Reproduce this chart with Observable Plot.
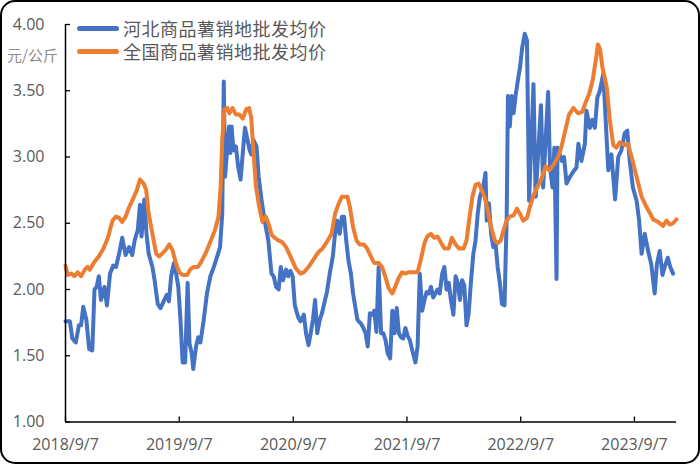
<!DOCTYPE html>
<html>
<head>
<meta charset="utf-8">
<script src="https://cdn.jsdelivr.net/npm/d3@7"></script>
<script src="https://cdn.jsdelivr.net/npm/@observablehq/plot@0.6"></script>
<style>
  html, body { margin: 0; padding: 0; background: #fff; }
  #wrap { position: relative; width: 700px; height: 464px; overflow: hidden; background: #fff; }
  #chart { position: absolute; left: 0; top: 0; }
  #frame { position: absolute; left: 0; top: 0; width: 700px; height: 464px; box-sizing: border-box;
           border: 2px solid #000; border-radius: 15px; pointer-events: none; }
  .leg { position: absolute; font-family: "Noto Sans CJK SC", sans-serif; font-size: 18px; color: #595959;
         white-space: nowrap; line-height: 1; letter-spacing: 0.5px; }
  .swatch { position: absolute; height: 5px; border-radius: 3px; }
  #unit { position: absolute; left: 7px; top: 47px; font-family: "Noto Sans CJK SC", sans-serif;
          font-size: 15px; color: #8c8c8c; line-height: 1; white-space: nowrap; }
</style>
</head>
<body>
<div id="wrap">
  <div id="chart"></div>
  <div id="legend"></div>
  <div id="unit">元/公斤</div>
  <div id="frame"></div>
</div>
<script>
// ---- data (weeks counted from 2018/9/7, prices in 元/公斤) ----
const startDay = "2018-09-07";

const seriesNames = ["河北商品薯销地批发均价", "全国商品薯销地批发均价"];
const seriesColors = ["#4472C4", "#ED7D31"];

const hebeiWeek = [0,2.0,3.1,4.7,6.1,7.2,8.2,9.6,10.8,12.3,13.3,14.3,15.3,16.3,17.8,19.0,20.4,21.9,23.1,24.5,26.0,27.6,29.2,30.6,31.7,33.1,34.1,34.9,36.2,37.2,38.2,39.8,40.9,42.3,43.5,45.0,46.4,47.4,48.4,49.7,50.7,51.7,52.7,53.7,54.8,56.0,56.8,57.8,58.6,59.9,60.9,61.9,63.3,64.8,66.4,68.0,69.5,70.9,71.9,72.5,73.2,74.0,75.0,75.6,76.2,77.0,78.1,79.1,80.3,81.3,82.3,83.4,84.4,85.2,86.2,87.5,88.5,89.9,91.3,93.0,94.4,95.4,96.6,97.7,98.7,99.7,101.1,102.2,103.2,104.2,105.2,106.7,107.7,109.3,110.3,111.4,112.4,113.4,114.4,115.4,116.5,117.5,118.5,119.9,121.2,122.6,123.6,124.6,125.7,126.7,127.7,128.7,129.7,130.8,131.8,132.8,133.8,135.5,136.5,137.5,138.5,139.5,140.6,141.6,142.6,143.6,144.7,145.7,146.7,147.7,148.8,149.8,150.8,151.8,152.8,153.9,154.9,155.9,156.9,157.9,159.0,160.4,161.4,162.4,163.5,164.5,165.5,166.5,167.6,168.6,169.6,170.6,171.6,172.7,173.7,174.7,175.7,176.7,177.8,178.8,179.8,180.8,181.9,182.9,183.9,184.9,185.9,187.0,188.0,189.0,190.0,191.5,192.5,193.1,194.1,195.1,196.2,197.2,198.2,199.2,200.2,201.3,202.3,202.9,203.7,204.5,205.4,206.4,207.4,208.4,209.4,210.5,211.5,212.5,214.5,215.6,218.0,219.0,221.3,222.1,223.3,224.1,225.2,225.6,227.5,228.6,229.7,231.3,232.8,234.3,235.1,236.6,238.1,238.9,240.4,241.5,242.7,243.9,245.0,246.5,248.8,250.3,252.0,253.4,254.9,256.4,257.6,258.7,260.2,261.8,263.0,264.1,265.6,267.1,268.6,270.1,271.2,272.4,273.7,274.7,276.2,277.3,278.5];
const hebeiPrice = [1.76,1.76,1.63,1.60,1.73,1.73,1.87,1.77,1.55,1.54,2.00,2.02,2.10,1.92,2.02,1.88,2.12,2.18,2.17,2.27,2.39,2.26,2.32,2.26,2.37,2.45,2.64,2.40,2.68,2.42,2.27,2.17,2.07,1.89,1.86,1.91,1.96,1.91,2.10,2.20,2.12,2.02,1.77,1.45,1.45,2.05,1.59,1.52,1.40,1.57,1.64,1.60,1.76,1.97,2.10,2.17,2.25,2.32,2.57,3.57,2.85,3.03,3.23,3.03,3.23,3.05,3.08,2.93,2.83,3.03,3.22,3.13,3.05,3.02,3.13,3.08,2.85,2.68,2.52,2.37,2.12,2.10,2.02,2.00,2.17,2.07,2.15,2.10,2.14,2.10,1.88,1.79,1.76,1.81,1.67,1.58,1.67,1.77,1.92,1.67,1.77,1.82,1.89,1.98,2.12,2.25,2.42,2.52,2.42,2.55,2.55,2.37,2.22,2.12,1.97,1.87,1.77,1.74,1.71,1.67,1.57,1.82,1.81,1.84,1.68,2.17,1.67,1.67,1.62,1.52,1.48,1.84,1.67,1.86,1.67,1.64,1.63,1.71,1.65,1.62,1.54,1.45,1.57,2.12,1.84,1.92,1.98,1.97,2.02,1.94,1.97,2.00,1.97,2.12,2.17,2.00,2.05,1.92,1.81,2.10,2.05,1.92,2.07,2.03,1.73,1.82,2.05,2.27,2.37,2.57,2.70,2.78,2.88,2.52,2.65,2.42,2.32,2.35,2.17,2.05,1.89,1.88,2.55,3.46,3.23,3.46,3.33,3.47,3.58,3.68,3.83,3.93,3.88,2.67,3.55,2.70,3.39,2.77,3.49,2.92,2.77,3.07,2.08,3.07,2.97,3.00,2.80,2.85,2.89,2.92,3.10,2.97,3.10,3.35,3.22,3.28,3.22,3.45,3.50,3.63,2.90,3.02,2.68,3.00,3.05,3.18,3.20,2.97,2.77,2.67,2.52,2.27,2.42,2.29,2.19,1.97,2.19,2.29,2.11,2.17,2.24,2.17,2.12];

const nationalWeek = [0,1.0,2.7,4.1,5.5,7.2,8.8,10.2,11.2,13.3,15.3,17.4,19.4,21.5,23.1,24.5,26.0,27.6,29.2,30.9,32.7,34.1,35.8,37.0,38.2,39.8,41.5,42.9,44.3,46.0,47.6,49.0,50.5,52.1,53.7,55.8,57.2,58.6,60.7,62.3,64.4,66.4,68.5,70.1,71.1,71.9,72.9,74.2,75.2,76.6,78.1,79.7,81.3,82.8,84.2,85.2,86.2,87.3,88.9,90.3,91.9,93.0,94.6,96.0,97.5,99.1,101.1,103.2,105.6,107.7,109.3,111.4,113.4,115.9,117.9,119.9,122.0,123.6,125.3,126.7,128.1,129.3,130.4,131.8,133.4,134.9,136.9,138.3,140.0,141.6,143.6,145.1,146.5,148.1,149.8,151.2,152.6,154.3,155.9,157.3,159.4,161.4,162.9,164.5,165.9,167.6,169.0,170.6,172.3,173.7,175.7,177.2,178.8,180.4,182.5,183.9,185.3,186.6,188.0,189.4,190.6,192.1,193.5,195.1,196.8,198.2,199.6,200.9,202.3,203.7,205.4,207.0,208.4,209.8,211.5,212.9,214.5,216.6,218.2,220.1,221.7,223.7,225.8,227.4,228.9,230.9,232.9,235.0,237.0,238.4,240.1,241.7,243.1,244.2,245.2,246.2,248.1,249.6,251.1,252.6,254.1,256.4,257.9,259.5,261.8,264.1,266.4,267.9,269.4,271.7,274.0,275.5,277.0,278.5,280.1];
const nationalPrice = [2.18,2.11,2.12,2.10,2.13,2.10,2.15,2.17,2.15,2.21,2.25,2.31,2.39,2.52,2.55,2.54,2.51,2.55,2.62,2.68,2.75,2.83,2.80,2.75,2.57,2.42,2.27,2.25,2.27,2.30,2.34,2.30,2.20,2.13,2.11,2.11,2.15,2.17,2.17,2.21,2.28,2.36,2.45,2.55,2.78,3.13,3.36,3.37,3.33,3.37,3.32,3.32,3.29,3.36,3.37,3.30,3.05,2.78,2.62,2.51,2.55,2.50,2.41,2.39,2.37,2.36,2.32,2.25,2.16,2.12,2.13,2.17,2.22,2.28,2.31,2.36,2.42,2.57,2.65,2.70,2.70,2.70,2.62,2.47,2.37,2.34,2.34,2.31,2.25,2.20,2.20,2.17,2.10,2.01,1.97,2.02,2.08,2.13,2.12,2.13,2.13,2.13,2.22,2.35,2.40,2.42,2.39,2.40,2.35,2.31,2.31,2.39,2.34,2.31,2.31,2.37,2.55,2.70,2.79,2.80,2.76,2.70,2.60,2.47,2.37,2.35,2.37,2.45,2.52,2.55,2.56,2.61,2.57,2.52,2.54,2.62,2.71,2.78,2.83,2.93,2.90,2.94,3.00,3.08,3.18,3.32,3.37,3.33,3.34,3.41,3.48,3.58,3.73,3.85,3.81,3.68,3.53,3.28,3.09,3.07,3.11,3.09,3.10,3.00,2.85,2.70,2.62,2.58,2.53,2.51,2.48,2.52,2.49,2.50,2.53];

const xTickDates = ["2018-09-07", "2019-09-07", "2020-09-07", "2021-09-07", "2022-09-07", "2023-09-07"];
const xTickLabels = ["2018/9/7", "2019/9/7", "2020/9/7", "2021/9/7", "2022/9/7", "2023/9/7"];
const yTicks = [1.0, 1.5, 2.0, 2.5, 3.0, 3.5, 4.0];

// ---- build ----
const DAY = 864e5;
const t0 = new Date(startDay + "T00:00:00Z").getTime();
const toDate = w => new Date(t0 + Math.round(w * 7) * DAY);
const rows = [];
hebeiWeek.forEach((w, i) => rows.push({s: seriesNames[0], date: toDate(w), v: hebeiPrice[i]}));
nationalWeek.forEach((w, i) => rows.push({s: seriesNames[1], date: toDate(w), v: nationalPrice[i]}));
const xt = xTickDates.map(s => new Date(s + "T00:00:00Z"));
const xDomain = d3.extent(rows, d => d.date);

const W = 700, H = 464, mL = 65, mR = 24, mT = 24, mB = 42.5;
const yDomain = [1, 4];
const tickLenX = 5 * (xDomain[1] - xDomain[0]) / (W - mL - mR);
const tickLenY = 5 * (yDomain[1] - yDomain[0]) / (H - mT - mB);
const font = '"Open Sans", "Liberation Sans", sans-serif';

const chart = Plot.plot({
  width: W, height: H,
  marginLeft: mL, marginRight: mR, marginTop: mT, marginBottom: mB,
  style: {fontFamily: font, background: "transparent"},
  x: {type: "utc", domain: xDomain},
  y: {domain: yDomain},
  marks: [
    Plot.axisY(yTicks, {tickSize: 0, tickPadding: 21, fontSize: 16, fill: "#595959",
      tickFormat: d => d.toFixed(2), label: null}),
    Plot.axisX(xt, {tickSize: 0, tickPadding: 17, fontSize: 16, fill: "#595959",
      tickFormat: d => xTickLabels[xt.findIndex(t => +t === +d)], label: null}),
    Plot.ruleY(yTicks, {y: d => d, x1: xDomain[0], x2: new Date(+xDomain[0] + tickLenX), stroke: "#000", strokeWidth: 1.3}),
    Plot.ruleX(xt, {x: d => d, y1: yDomain[0], y2: yDomain[0] + tickLenY, stroke: "#000", strokeWidth: 1.3}),
    Plot.line(rows.filter(d => d.s === seriesNames[0]), {x: "date", y: "v", stroke: seriesColors[0], strokeWidth: 4, strokeLinejoin: "round", strokeLinecap: "round"}),
    Plot.line(rows.filter(d => d.s === seriesNames[1]), {x: "date", y: "v", stroke: seriesColors[1], strokeWidth: 4, strokeLinejoin: "round", strokeLinecap: "round"}),
    Plot.ruleX([xDomain[0]], {stroke: "#000", strokeWidth: 1.5}),
    Plot.ruleY([yDomain[0]], {stroke: "#000", strokeWidth: 1.5})
  ]
});
document.getElementById("chart").appendChild(chart);

// legend
const leg = document.getElementById("legend");
const legRowsY = [28.5, 51.5];
seriesNames.forEach((name, i) => {
  const sw = document.createElement("div");
  sw.className = "swatch";
  sw.style.left = "77px"; sw.style.width = "42px";
  sw.style.top = (legRowsY[i] - 2.5) + "px";
  sw.style.background = seriesColors[i];
  leg.appendChild(sw);
  const tx = document.createElement("div");
  tx.className = "leg";
  tx.textContent = name;
  tx.style.left = "123px";
  tx.style.top = (legRowsY[i] - 9.5) + "px";
  leg.appendChild(tx);
});
</script>
</body>
</html>
